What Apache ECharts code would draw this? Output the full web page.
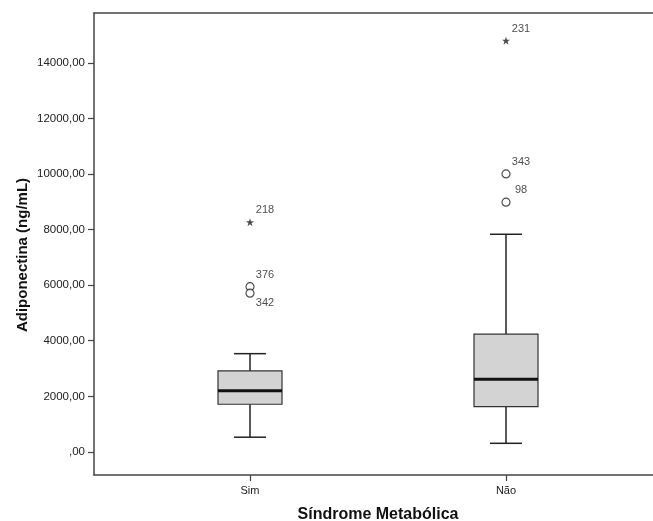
<!DOCTYPE html>
<html>
<head>
<meta charset="utf-8">
<script src="https://cdn.jsdelivr.net/npm/echarts@6/dist/echarts.min.js"></script>
<style>html,body{margin:0;padding:0;background:#fff}#c{width:653px;height:521px}</style>
</head>
<body>
<div id="c"></div>
<script>
// Categories and their positions on the x scale
const categories = ['Sim', 'Não'];
const categoryPos = [1, 2];
// Box stats: [lowerWhisker, Q1, median, Q3, upperWhisker]
const boxSim = [530, 1715, 2205, 2915, 3535];
const boxNao = [310, 1630, 2615, 4235, 7830];
// Outliers
const outlierCat = [0, 0, 0, 1, 1, 1];
const outlierVal = [8265, 5945, 5710, 14795, 10000, 8985];
const outlierId = ['218', '376', '342', '231', '343', '98'];
const outlierKind = ['extreme', 'mild', 'mild', 'extreme', 'mild', 'mild'];
const labelBelow = [false, false, true, false, false, false];
// Y tick values
const yTicks = [0, 2000, 4000, 6000, 8000, 10000, 12000, 14000];

const boxes = [boxSim, boxNao].map((b, i) => [categoryPos[i]].concat(b));
const starPath = 'path://M0,-10 L2.4,-3.1 9.5,-3.1 3.8,1.2 5.9,8.1 0,4 -5.9,8.1 -3.8,1.2 -9.5,-3.1 -2.4,-3.1Z';
const outliers = outlierVal.map((v, i) => ({
  value: [categoryPos[outlierCat[i]], v, outlierId[i]],
  symbol: outlierKind[i] === 'extreme' ? starPath : 'circle',
  symbolSize: 8,
  itemStyle: outlierKind[i] === 'extreme'
    ? { color: '#222', borderWidth: 0 }
    : { color: '#fff', borderColor: '#222', borderWidth: 1.2 },
  label: { offset: labelBelow[i] ? [15, 10] : [15, -12] }
}));

const chart = echarts.init(document.getElementById('c'), null, { renderer: 'canvas' });
const axisLineStyle = { color: '#444', width: 1.5 };
chart.setOption({
  animation: false,
  backgroundColor: '#fff',
  textStyle: { fontFamily: 'Liberation Sans, Arial, sans-serif' },
  grid: { left: 94, top: 13, width: 568, bottom: 46, containLabel: false, outerBoundsMode: 'none' },
  xAxis: [{
    type: 'value', min: 0.390625, max: 2.609375,
    name: 'Síndrome Metabólica', nameLocation: 'middle', nameGap: 32, nameMoveOverlap: false,
    nameTextStyle: { fontSize: 16, fontWeight: 'bold', color: '#111' },
    splitLine: { show: false },
    axisLine: { show: true, onZero: false, lineStyle: axisLineStyle },
    axisTick: { show: true, length: 6, customValues: categoryPos, lineStyle: { color: '#444', width: 1.2 } },
    axisLabel: { customValues: categoryPos, fontSize: 11, color: '#222', margin: 10,
      formatter: v => categories[categoryPos.indexOf(Math.round(v))] || '' }
  }, {
    type: 'value', position: 'top', min: 0.390625, max: 2.609375,
    splitLine: { show: false }, axisTick: { show: false }, axisLabel: { show: false },
    axisLine: { show: true, onZero: false, lineStyle: axisLineStyle }
  }],
  yAxis: {
    type: 'value', min: -830, max: 15790,
    name: 'Adiponectina (ng/mL)', nameLocation: 'middle', nameGap: 64, nameMoveOverlap: false,
    nameTextStyle: { fontSize: 15, fontWeight: 'bold', color: '#111', padding: [0, 22, 0, 0] },
    splitLine: { show: false },
    axisLine: { show: true, onZero: false, lineStyle: axisLineStyle },
    axisTick: { show: true, length: 6, customValues: yTicks, lineStyle: { color: '#444', width: 1.2 } },
    axisLabel: { customValues: yTicks, fontSize: 11.5, color: '#222', margin: 9,
      formatter: v => v === 0 ? ',00' : v + ',00' }
  },
  series: [{
    type: 'custom',
    data: boxes,
    encode: { x: 0, y: [1, 2, 3, 4, 5] },
    renderItem: function (params, api) {
      const x = api.value(0);
      const p = v => api.coord([x, v]);
      const lo = p(api.value(1)), q1 = p(api.value(2)), md = p(api.value(3)), q3 = p(api.value(4)), hi = p(api.value(5));
      const cx = lo[0], hw = 32, cw = 16;
      const ls = { stroke: '#222', lineWidth: 1.5 };
      return {
        type: 'group', children: [
          { type: 'line', shape: { x1: cx, y1: hi[1], x2: cx, y2: q3[1] }, style: ls },
          { type: 'line', shape: { x1: cx, y1: q1[1], x2: cx, y2: lo[1] }, style: ls },
          { type: 'line', shape: { x1: cx - cw, y1: hi[1], x2: cx + cw, y2: hi[1] }, style: ls },
          { type: 'line', shape: { x1: cx - cw, y1: lo[1], x2: cx + cw, y2: lo[1] }, style: ls },
          { type: 'rect', shape: { x: cx - hw, y: q3[1], width: 2 * hw, height: q1[1] - q3[1] },
            style: { fill: '#d3d3d3', stroke: '#333', lineWidth: 1.2 } },
          { type: 'line', shape: { x1: cx - hw, y1: md[1], x2: cx + hw, y2: md[1] }, style: { stroke: '#111', lineWidth: 3 } }
        ]
      };
    }
  }, {
    type: 'scatter',
    data: outliers,
    z: 5,
    label: {
      show: true, position: 'inside', color: '#222', fontSize: 11,
      formatter: p => p.value[2]
    }
  }]
});
</script>
</body>
</html>
